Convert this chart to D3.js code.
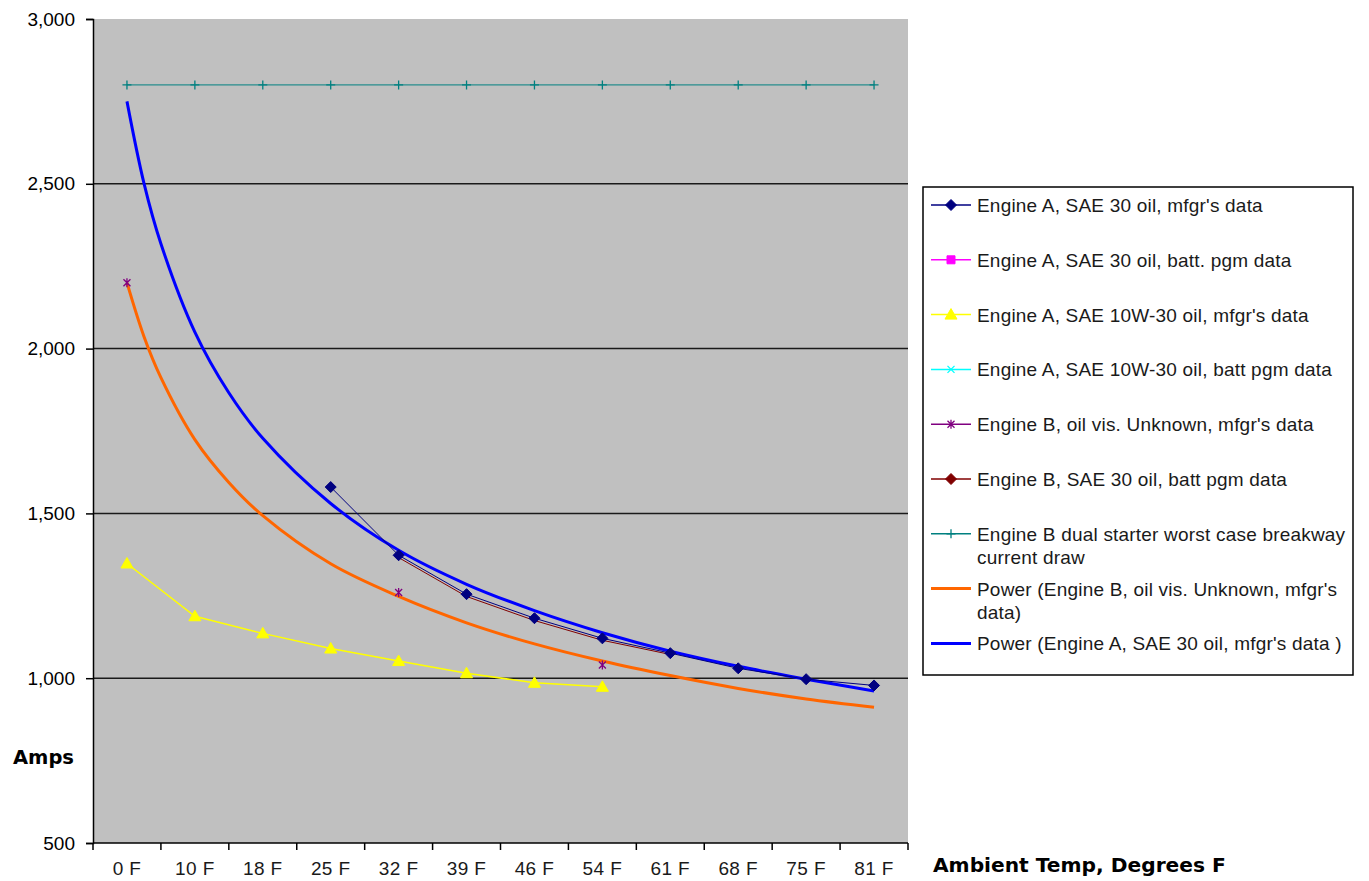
<!DOCTYPE html>
<html lang="en">
<head>
<meta charset="UTF-8">
<title>Starter current draw vs ambient temperature</title>
<script src="https://d3js.org/d3.v7.min.js"></script>
<style>
    body {
        margin: 0;
        background: #fff;
    }
    svg {
        display: block;
        font-family: "Liberation Sans", Arial, sans-serif;
    }
    .tick text {
        font-size: 19px;
        fill: #000;
    }
    .axis-title {
        font-family: "DejaVu Sans", Verdana, sans-serif;
        font-weight: bold;
        font-size: 19.5px;
    }
    .legend text {
        font-size: 19px;
        letter-spacing: 0.2px;
    }
</style>
</head>
<body>
<div id="container"></div>
<script>
// x categories (ambient temperature)
const categories = ["0 F", "10 F", "18 F", "25 F", "32 F", "39 F", "46 F", "54 F", "61 F", "68 F", "75 F", "81 F"];

// measured series, one value per category (null = no reading)
const engA30Mfgr   = [null, null, null, 1580, 1373, 1255, 1182, 1121, 1076, 1030, 997, 978];
const engA30Batt   = [null, null, null, null, null, null, null, null, null, null, null, null];
const engA10wMfgr  = [1348, 1188, 1136, 1090, 1052, 1015, 986, 974, null, null, null, null];
const engA10wBatt  = [null, null, null, null, null, null, null, null, null, null, null, null];
const engBUnkMfgr  = [2200, null, null, null, 1260, null, null, 1040, null, null, null, null];
const engB30Batt   = [null, null, null, null, 1366, 1248, 1175, 1115, 1072, null, null, null];
const engBWorst    = [2800, 2800, 2800, 2800, 2800, 2800, 2800, 2800, 2800, 2800, 2800, 2800];

// power trendlines at category steps (0 = "0 F", 11 = "81 F")
const trendSteps   = [0, 0.25, 0.5, 1, 1.5, 2, 3, 4, 5, 6, 7, 8, 9, 10, 11];
const trendEngB    = [2200, 2037, 1912, 1724, 1594, 1493, 1347, 1248, 1168, 1104, 1052, 1008, 969, 937, 912];
const trendEngA    = [2750, 2502, 2318, 2050, 1866, 1728, 1530, 1388, 1285, 1205, 1138, 1082, 1036, 997, 961];

const yTicks = [500, 1000, 1500, 2000, 2500, 3000];

const legendLabels = [
    ["Engine A, SAE 30 oil, mfgr's data"],
    ["Engine A, SAE 30 oil, batt. pgm data"],
    ["Engine A, SAE 10W-30 oil, mfgr's data"],
    ["Engine A, SAE 10W-30 oil, batt pgm data"],
    ["Engine B, oil vis. Unknown, mfgr's data"],
    ["Engine B, SAE 30 oil, batt pgm data"],
    ["Engine B dual starter worst case breakway", "current draw"],
    ["Power (Engine B, oil vis. Unknown, mfgr's", "data)"],
    ["Power (Engine A, SAE 30 oil, mfgr's data )"]
];

const width = 1369, height = 881;
const plot = {left: 93, top: 19, right: 908, bottom: 843};

const svg = d3.select('#container').append('svg')
    .attr('width', width)
    .attr('height', height);

const x = d3.scaleBand()
    .domain(categories)
    .range([plot.left, plot.right])
    .padding(0);

const y = d3.scaleLinear()
    .domain([500, 3000])
    .range([plot.bottom, plot.top]);

const xStep = d3.scaleLinear()
    .domain([0, categories.length - 1])
    .range([x(categories[0]) + x.bandwidth() / 2, x(categories[categories.length - 1]) + x.bandwidth() / 2]);

// marker shapes
function marker(type) {
    switch (type) {
        case 'diamond': return 'M0,-5.5L5.5,0L0,5.5L-5.5,0Z';
        case 'square': return 'M-4,-4H4V4H-4Z';
        case 'triangle': return 'M0,-6L6,4.5H-6Z';
        case 'x': return 'M-3.5,-3.5L3.5,3.5M-3.5,3.5L3.5,-3.5';
        case 'asterisk': return 'M-3.5,-3.5L3.5,3.5M-3.5,3.5L3.5,-3.5M0,-4.5V4.5';
        case 'plus': return 'M0,-4.5V4.5M-4.5,0H4.5';
    }
    return '';
}

const series = [
    {values: engA30Mfgr,  color: '#000080', marker: 'diamond',  filled: true},
    {values: engA30Batt,  color: '#FF00FF', marker: 'square',   filled: true},
    {values: engA10wMfgr, color: '#FFFF00', marker: 'triangle', filled: true, width: 1.5},
    {values: engA10wBatt, color: '#00FFFF', marker: 'x',        filled: false},
    {values: engBUnkMfgr, color: '#800080', marker: 'asterisk', filled: false},
    {values: engB30Batt,  color: '#800000', marker: 'diamond',  filled: true, hideMarks: true},
    {values: engBWorst,   color: '#008080', marker: 'plus',     filled: false}
];

const trends = [
    {values: trendEngB, color: '#FF6600'},
    {values: trendEngA, color: '#0000FF'}
];

// plot background
svg.append('rect')
    .attr('x', plot.left)
    .attr('y', plot.top)
    .attr('width', plot.right - plot.left)
    .attr('height', plot.bottom - plot.top)
    .attr('fill', '#C0C0C0');

// gridlines
svg.append('g')
    .selectAll('line')
    .data(yTicks.filter(t => t > 500 && t < 3000))
    .enter()
    .append('line')
    .attr('x1', plot.left)
    .attr('x2', plot.right)
    .attr('y1', d => y(d))
    .attr('y2', d => y(d))
    .attr('stroke', '#1a1a1a')
    .attr('stroke-width', 1.5);

// y axis
const yAxis = svg.append('g')
    .attr('transform', `translate(${plot.left},0)`)
    .call(d3.axisLeft(y).tickValues(yTicks).tickFormat(d3.format(',')).tickSize(7).tickPadding(11));
yAxis.select('.domain').attr('stroke', '#000').attr('stroke-width', 1.5);
yAxis.selectAll('.tick line').attr('stroke', '#000').attr('stroke-width', 1.5);
yAxis.selectAll('.tick text').attr('fill', '#1a1a1a');

// x axis: ticks sit between categories
const xAxis = svg.append('g')
    .attr('transform', `translate(0,${plot.bottom})`);
xAxis.append('line')
    .attr('x1', plot.left)
    .attr('x2', plot.right)
    .attr('stroke', '#000')
    .attr('stroke-width', 1.5);
xAxis.selectAll('.xtick')
    .data(categories.concat(['end']))
    .enter()
    .append('line')
    .attr('class', 'xtick')
    .attr('x1', (d, i) => i < categories.length ? x(d) : plot.right)
    .attr('x2', (d, i) => i < categories.length ? x(d) : plot.right)
    .attr('y1', 0)
    .attr('y2', 7)
    .attr('stroke', '#000')
    .attr('stroke-width', 1.5);
xAxis.selectAll('.xlabel')
    .data(categories)
    .enter()
    .append('text')
    .attr('class', 'xlabel')
    .attr('x', d => x(d) + x.bandwidth() / 2)
    .attr('y', 32)
    .attr('text-anchor', 'middle')
    .attr('font-size', 19)
    .attr('letter-spacing', 0.4)
    .attr('fill', '#1a1a1a')
    .text(d => d);

// axis titles
svg.append('text')
    .attr('class', 'axis-title')
    .attr('x', 13)
    .attr('y', 764)
    .text('Amps');

svg.append('text')
    .attr('class', 'axis-title')
    .attr('x', 933)
    .attr('y', 872)
    .style('font-size', '20.2px')
    .text('Ambient Temp, Degrees F');

// trendlines
const trendLine = d3.line()
    .x((d, i) => xStep(trendSteps[i]))
    .y(d => y(d))
    .curve(d3.curveCatmullRom);

svg.append('g')
    .selectAll('path')
    .data(trends)
    .enter()
    .append('path')
    .attr('d', d => trendLine(d.values))
    .attr('fill', 'none')
    .attr('stroke', d => d.color)
    .attr('stroke-width', 3);

// data series, drawn back to front so Engine A mfgr's data is on top
const dataLine = d3.line()
    .defined(d => d != null)
    .x((d, i) => x(categories[i]) + x.bandwidth() / 2)
    .y(d => y(d));

const seriesG = svg.append('g')
    .selectAll('g')
    .data(series.slice().reverse())
    .enter()
    .append('g');

seriesG.append('path')
    .attr('d', d => dataLine(d.values))
    .attr('fill', 'none')
    .attr('stroke', d => d.color)
    .attr('stroke-width', d => d.width || 1);

seriesG.each(function(s) {
    if (s.hideMarks) return; // its markers sit under Engine A's diamonds
    d3.select(this).selectAll('.pt')
        .data(s.values.map((v, i) => ({v, i})).filter(p => p.v != null))
        .enter()
        .append('path')
        .attr('class', 'pt')
        .attr('transform', p => `translate(${x(categories[p.i]) + x.bandwidth() / 2},${y(p.v)})`)
        .attr('d', marker(s.marker))
        .attr('fill', s.filled ? s.color : 'none')
        .attr('stroke', s.color)
        .attr('stroke-width', s.filled ? 1 : 1.3);
});

// legend
const legend = svg.append('g').attr('class', 'legend');
legend.append('rect')
    .attr('x', 923)
    .attr('y', 187)
    .attr('width', 430)
    .attr('height', 488)
    .attr('fill', '#fff')
    .attr('stroke', '#000')
    .attr('stroke-width', 1.5);

const legendItems = series.map(s => ({color: s.color, marker: s.marker, filled: s.filled, w: 1.5}))
    .concat(trends.map(t => ({color: t.color, marker: null, w: 3})));

const rows = legend.selectAll('.row')
    .data(legendItems)
    .enter()
    .append('g')
    .attr('class', 'row')
    .attr('transform', (d, i) => `translate(0,${205 + i * 54.8})`);

rows.append('line')
    .attr('x1', 931)
    .attr('x2', 971)
    .attr('stroke', d => d.color)
    .attr('stroke-width', d => d.w);

rows.filter(d => d.marker)
    .append('path')
    .attr('transform', 'translate(951,0)')
    .attr('d', d => marker(d.marker))
    .attr('fill', d => d.filled ? d.color : 'none')
    .attr('stroke', d => d.color)
    .attr('stroke-width', d => d.filled ? 1 : 1.3);

rows.append('text')
    .attr('x', 977)
    .attr('y', 7)
    .attr('fill', '#1a1a1a')
    .selectAll('tspan')
    .data((d, i) => legendLabels[i])
    .enter()
    .append('tspan')
    .attr('x', 977)
    .attr('dy', (d, j) => j === 0 ? 0 : 23.5)
    .text(d => d);
</script>
</body>
</html>
